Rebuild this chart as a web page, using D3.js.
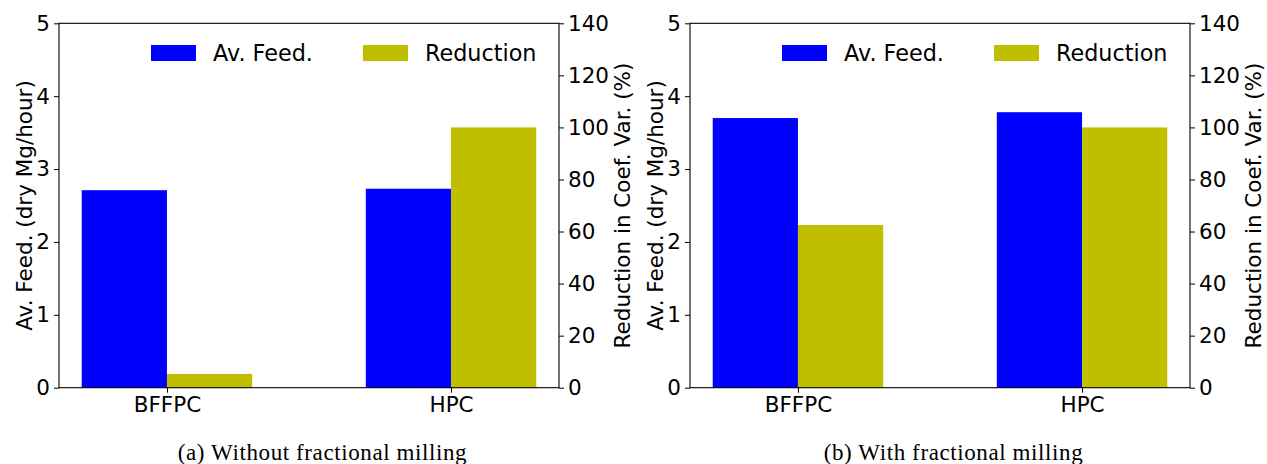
<!DOCTYPE html>
<html>
<head>
<meta charset="utf-8">
<script src="https://cdn.jsdelivr.net/npm/d3@7"></script>
<style>
  body { margin: 0; background: #fff; }
  text { font-family: "DejaVu Sans", sans-serif; fill: #000; }
  .caption { font-family: "Liberation Serif", serif; }
</style>
</head>
<body>
<svg id="chart" width="1267" height="464"></svg>
<script>
'use strict'

// data
const categories = ['BFFPC', 'HPC']
const feedWithout = [2.71, 2.73]
const reductionWithout = [5.3, 100]
const feedWith = [3.70, 3.78]
const reductionWith = [62.5, 100]
const leftTicks = [0, 1, 2, 3, 4, 5]
const rightTicks = [0, 20, 40, 60, 80, 100, 120, 140]
const captions = ['(a) Without fractional milling', '(b) With fractional milling']

const svg = d3.select('#chart')
const plotTop = 23.3
const plotBottom = 387.7
const plotW = 500
const barW = 0.3

function panel (x0, feed, reduction, caption) {
  const g = svg.append('g')
  const x = d3.scaleLinear().domain([-0.38, 1.38]).range([x0, x0 + plotW])
  const yL = d3.scaleLinear().domain([0, 5]).range([plotBottom, plotTop])
  const yR = d3.scaleLinear().domain([0, 140]).range([plotBottom, plotTop])

  g.selectAll('rect.feed')
    .data(feed)
    .enter()
    .append('rect')
    .attr('x', (d, i) => x(i - barW))
    .attr('width', x(barW) - x(0))
    .attr('y', d => yL(d))
    .attr('height', d => plotBottom - yL(d))
    .attr('fill', '#0000ff')

  g.selectAll('rect.red')
    .data(reduction)
    .enter()
    .append('rect')
    .attr('x', (d, i) => x(i))
    .attr('width', x(barW) - x(0))
    .attr('y', d => yR(d))
    .attr('height', d => plotBottom - yR(d))
    .attr('fill', '#bfbf00')

  // frame
  g.append('rect')
    .attr('x', x0).attr('y', plotTop)
    .attr('width', plotW).attr('height', plotBottom - plotTop)
    .attr('fill', 'none').attr('stroke', '#000').attr('stroke-width', 1.1)

  const fs = '21.5px'
  const ax = d3.axisLeft(yL).tickValues(leftTicks).tickSize(5).tickPadding(4).tickFormat(d3.format('d'))
  g.append('g').attr('transform', `translate(${x0},0)`).call(ax)
  const ar = d3.axisRight(yR).tickValues(rightTicks).tickSize(5).tickPadding(4).tickFormat(d3.format('d'))
  g.append('g').attr('transform', `translate(${x0 + plotW},0)`).call(ar)
  const xb = d3.axisBottom(x).tickValues([0, 1]).tickSize(5).tickPadding(4).tickFormat(i => categories[i])
  g.append('g').attr('transform', `translate(0,${plotBottom})`).call(xb)
  g.selectAll('.domain').remove()
  g.selectAll('.tick text').style('font-size', fs).style('font-family', '"DejaVu Sans", sans-serif')

  g.append('text')
    .attr('transform', `translate(${x0 - 27},${(plotTop + plotBottom) / 2}) rotate(-90)`)
    .attr('text-anchor', 'middle')
    .style('font-size', fs)
    .text('Av. Feed. (dry Mg/hour)')
  g.append('text')
    .attr('transform', `translate(${x0 + plotW + 71},${(plotTop + plotBottom) / 2}) rotate(-90)`)
    .attr('text-anchor', 'middle')
    .style('font-size', fs)
    .text('Reduction in Coef. Var. (%)')

  // legend
  const legend = [['Av. Feed.', '#0000ff'], ['Reduction', '#bfbf00']]
  legend.forEach((l, i) => {
    const lx = x0 + 92 + i * 212
    g.append('rect').attr('x', lx).attr('y', 45).attr('width', 45).attr('height', 16).attr('fill', l[1])
    g.append('text').attr('x', lx + 62).attr('y', 61).style('font-size', '22.3px').text(l[0])
  })

  g.append('text')
    .attr('class', 'caption')
    .attr('x', x0 + 263.5).attr('y', 460)
    .attr('text-anchor', 'middle')
    .style('font-size', '23px')
    .style('letter-spacing', '0.6px')
    .text(caption)
}

panel(59, feedWithout, reductionWithout, captions[0])
panel(690, feedWith, reductionWith, captions[1])
</script>
</body>
</html>
